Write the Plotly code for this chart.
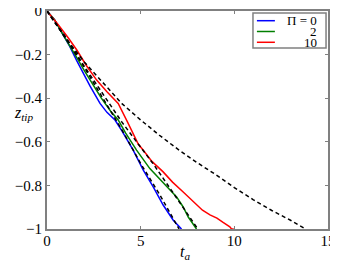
import plotly.graph_objects as go

# tip position vs time
t_pi0 = [0, 0.4, 0.8, 1.2, 1.6, 2.0, 2.3, 2.83, 3.2, 3.63, 4.0, 4.6, 5.14, 5.67, 6.2, 6.74, 7.18]
z_pi0 = [0, -0.04, -0.10, -0.16, -0.23, -0.30, -0.345, -0.424, -0.465, -0.50, -0.55, -0.638, -0.73, -0.807, -0.89, -0.96, -1.0]

t_pi2 = [0, 0.4, 0.8, 1.2, 1.6, 2.0, 2.38, 2.9, 3.4, 3.8, 4.2, 4.78, 5.49, 6.2, 6.92, 7.27, 7.54, 7.98]
z_pi2 = [0, -0.04, -0.10, -0.155, -0.215, -0.275, -0.33, -0.40, -0.46, -0.50, -0.56, -0.638, -0.723, -0.79, -0.853, -0.899, -0.945, -1.0]

t_pi10 = [0, 0.3, 0.6, 1.14, 1.6, 2.1, 2.65, 3.2, 3.8, 4.3, 4.87, 5.13, 5.6, 6.2, 6.7, 7.27, 7.8, 8.3, 8.7, 9.07, 9.4, 9.76, 9.85, 9.97]
z_pi10 = [0, -0.03, -0.063, -0.124, -0.18, -0.25, -0.317, -0.37, -0.424, -0.51, -0.61, -0.638, -0.69, -0.738, -0.785, -0.83, -0.875, -0.914, -0.935, -0.95, -0.97, -0.99, -1.0, -1.0]

# reference (dashed) curves
t_ref_a = [0, 1, 2, 3, 4, 5, 6, 7.05]
z_ref_a = [0, -0.125, -0.26, -0.40, -0.545, -0.70, -0.84, -1.0]

t_ref_b = [0, 1, 2, 3, 4, 5, 5.66, 6.38, 7.09, 7.6, 8.05]
z_ref_b = [0, -0.12, -0.255, -0.385, -0.51, -0.625, -0.70, -0.79, -0.88, -0.94, -1.0]

t_ref_c = [0, 1, 2, 3, 4, 5, 6, 7, 8, 9, 10, 11, 12, 13, 13.8]
z_ref_c = [0, -0.125, -0.235, -0.33, -0.425, -0.50, -0.57, -0.635, -0.695, -0.75, -0.81, -0.865, -0.915, -0.96, -1.0]

legend_names = ["Π = 0", "2", "10"]
colors = ["#0000ff", "#007f00", "#ff0000"]

x_ticks = [0, 5, 10, 15]
y_ticks = [0, -0.2, -0.4, -0.6, -0.8, -1]
y_ticktext = ["0", "−0.2", "−0.4", "−0.6", "−0.8", "−1"]

FONT = "Liberation Serif"
GRAY = "#808080"

fig = go.Figure()
for t, z, c, n in zip([t_pi0, t_pi2, t_pi10], [z_pi0, z_pi2, z_pi10], colors, legend_names):
    fig.add_trace(go.Scatter(x=t, y=z, mode="lines", name=n,
                             line=dict(color=c, width=1.5), showlegend=False))
for t, z in [(t_ref_a, z_ref_a), (t_ref_b, z_ref_b), (t_ref_c, z_ref_c)]:
    fig.add_trace(go.Scatter(x=t, y=z, mode="lines",
                             line=dict(color="black", width=1.5, dash="4px,3px"),
                             showlegend=False))

axis_common = dict(showgrid=False, zeroline=False, showline=True, linecolor=GRAY,
                   linewidth=2, mirror="ticks", ticks="inside", ticklen=3, automargin=False,
                   ticklabeloverflow="allow",
                   tickcolor=GRAY, tickwidth=1, tickfont=dict(family=FONT, size=15, color="black"))
fig.update_xaxes(range=[0, 15], tickvals=x_ticks, ticktext=[str(v) for v in x_ticks],
                 ticklabelstandoff=-3, **axis_common)
fig.update_yaxes(range=[-1, 0], tickvals=y_ticks, ticktext=y_ticktext, **axis_common)

# hand-made compact legend (box, sample lines, right-aligned labels)
shapes = [dict(type="rect", xref="paper", yref="paper", x0=0.733, x1=0.993, y0=0.830, y1=0.991,
               line=dict(color=GRAY, width=1.5), fillcolor="white", layer="above")]
annotations = []
for i, (n, c) in enumerate(zip(legend_names, colors)):
    yy = 0.9555 - i * 0.0495
    shapes.append(dict(type="line", xref="paper", yref="paper", x0=0.747, x1=0.811, y0=yy, y1=yy,
                       line=dict(color=c, width=1.5), layer="above"))
    annotations.append(dict(text=n, xref="paper", yref="paper", x=0.966, y=yy, xanchor="right",
                            yanchor="middle", showarrow=False, borderpad=0,
                            font=dict(family=FONT, size=13, color="black")))

annotations.append(dict(text="<i>z</i><sub><i>tip</i></sub>", xref="paper", yref="paper",
                        x=-0.085, y=0.53, xanchor="center", yanchor="middle", showarrow=False,
                        font=dict(family=FONT, size=16, color="black")))
annotations.append(dict(text="<i>t</i><sub><i>a</i></sub>", xref="paper", yref="paper",
                        x=0.49, y=-0.11, xanchor="center", yanchor="middle", showarrow=False,
                        font=dict(family=FONT, size=16, color="black")))

# the page adds an 8px body margin, so the figure is sized/offset to land where the reference is
fig.update_layout(width=330, height=255, margin=dict(l=39, r=10, t=3, b=34),
                  paper_bgcolor="white", plot_bgcolor="white",
                  shapes=shapes, annotations=annotations, showlegend=False)

fig.write_html("out.html")
